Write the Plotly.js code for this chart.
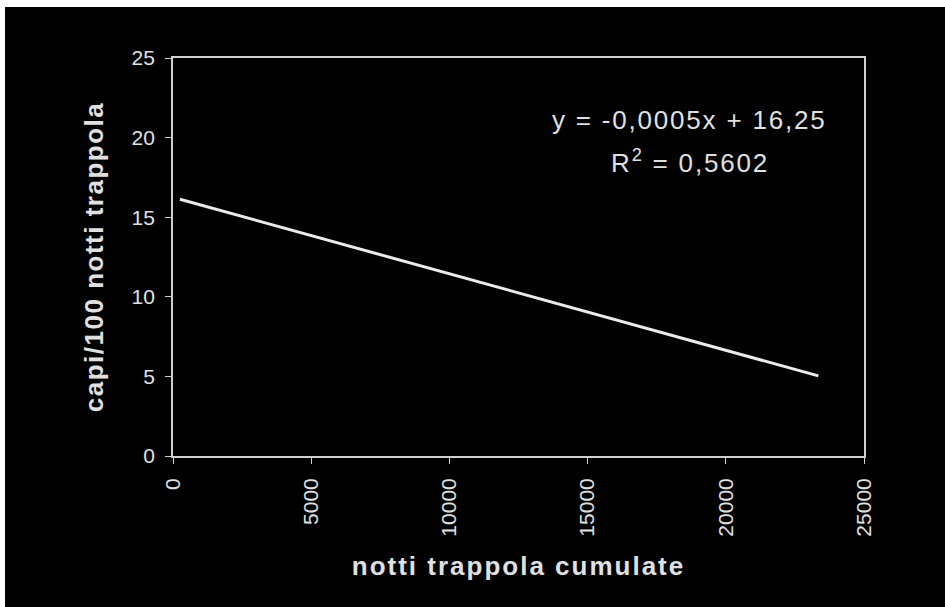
<!DOCTYPE html>
<html>
<head>
<meta charset="utf-8">
<script src="https://cdn.plot.ly/plotly-3.0.1.min.js"></script>
<style>
html,body{margin:0;padding:0;background:#ffffff;overflow:hidden;}
#chart{position:absolute;left:5px;top:7px;width:940px;height:600px;}
#chart text.xtitle{letter-spacing:2px;}
#chart text.ytitle{letter-spacing:1.5px;}
#chart text.annotation-text{letter-spacing:1.8px;}
</style>
</head>
<body>
<div id="chart"></div>
<script>
// Trend line endpoints
const trendX = [250, 23350];
const trendY = [16.13, 5.03];
const xTicks = [0, 5000, 10000, 15000, 20000, 25000];
const yTicks = [0, 5, 10, 15, 20, 25];
const eqText = "y = -0,0005x + 16,25";
const r2Text = "R<sup>2</sup> = 0,5602";
const xTitle = "notti trappola cumulate";
const yTitle = "capi/100 notti trappola";

const axisCol = "#cfcfcf";
const txtCol = "#e0e0e0";
const font = "Liberation Sans, Arial, sans-serif";

const trace = {
  x: trendX, y: trendY, type: "scatter", mode: "lines",
  line: {color: "#ebebeb", width: 3}, hoverinfo: "skip"
};

const layout = {
  width: 940, height: 600,
  paper_bgcolor: "#000000", plot_bgcolor: "#000000",
  margin: {l: 168, r: 81, t: 51, b: 151},
  showlegend: false,
  font: {family: font, color: txtCol},
  xaxis: {
    range: [0, 25000], tickvals: xTicks, ticktext: xTicks.map(v => String(v) + " "),
    tickangle: -90, showgrid: false, zeroline: false,
    showline: true, linecolor: axisCol, linewidth: 2, mirror: true,
    ticks: "outside", ticklen: 6, tickcolor: axisCol, tickwidth: 1,
    tickfont: {size: 21, color: txtCol, family: font},
    title: {text: xTitle, font: {size: 26, color: txtCol, family: font, weight: "bold"}, standoff: 21},
    automargin: false
  },
  yaxis: {
    range: [0, 25], tickvals: yTicks, ticktext: yTicks.map(v => String(v) + " "),
    showgrid: false, zeroline: false,
    showline: true, linecolor: axisCol, linewidth: 2, mirror: true,
    ticks: "outside", ticklen: 6, tickcolor: axisCol, tickwidth: 1,
    tickfont: {size: 21, color: txtCol, family: font},
    title: {text: yTitle, font: {size: 26, color: txtCol, family: font, weight: "bold"}, standoff: 20},
    automargin: false
  },
  annotations: [
    {xref: "paper", yref: "paper", x: 0.748, y: 0.844, text: eqText, showarrow: false,
     xanchor: "center", yanchor: "middle", font: {size: 26, color: txtCol, family: font}},
    {xref: "paper", yref: "paper", x: 0.748, y: 0.739, text: r2Text, showarrow: false,
     xanchor: "center", yanchor: "middle", font: {size: 26, color: txtCol, family: font}}
  ]
};

Plotly.newPlot("chart", [trace], layout, {displayModeBar: false, staticPlot: true});
</script>
</body>
</html>
